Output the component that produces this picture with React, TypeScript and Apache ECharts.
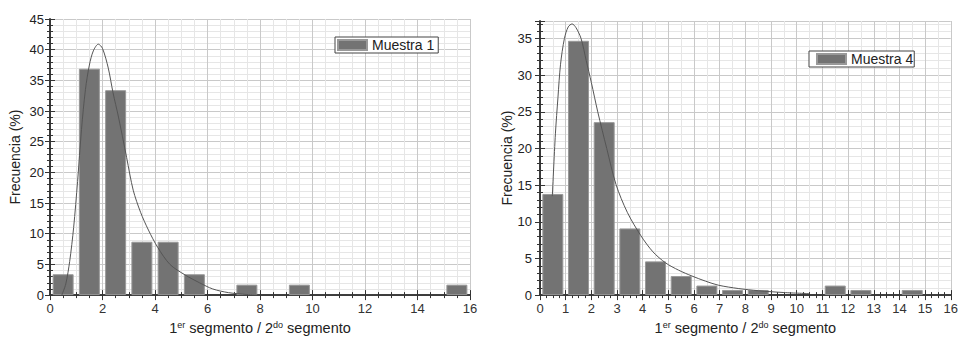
import React, { useEffect, useRef } from "react";
import * as echarts from "echarts";

// ---- data ----
const leftCenters = [0.5, 1.5, 2.5, 3.5, 4.5, 5.5, 7.5, 9.5, 15.5];
const leftFreq = [3.4, 36.9, 33.4, 8.7, 8.7, 3.4, 1.7, 1.7, 1.7];
const leftFitX = [0.45, 0.6, 0.75, 0.9, 1.05, 1.2, 1.35, 1.5, 1.65, 1.84, 2.0, 2.22, 2.4, 2.6, 2.92, 3.17, 3.45, 3.75, 4.1, 4.57, 5.14, 5.7, 6.2, 6.8, 7.5, 8.0];
const leftFitY = [0, 1.8, 5.5, 11, 18.5, 27, 33.5, 37.5, 39.8, 40.9, 40.2, 37, 33, 29.2, 22.4, 17.1, 13.5, 10.6, 7.8, 5, 3.3, 2, 1, 0.4, 0.1, 0];

const rightCenters = [0.5, 1.5, 2.5, 3.5, 4.5, 5.5, 6.5, 7.5, 8.5, 11.5, 12.5, 14.5];
const rightFreq = [13.8, 34.7, 23.6, 9.1, 4.6, 2.6, 1.3, 0.7, 0.7, 1.3, 0.7, 0.7];
const rightFitX = [0.48, 0.6, 0.7, 0.8, 0.95, 1.1, 1.25, 1.4, 1.6, 1.8, 2.0, 2.25, 2.6, 2.96, 3.4, 3.93, 4.4, 4.89, 5.4, 5.92, 6.45, 6.95, 7.72, 8.5, 9.5, 10.5];
const rightFitY = [13.5, 22, 27, 31.5, 35, 36.6, 37, 36.5, 35, 32, 29, 25, 20, 15.1, 11.3, 8.1, 5.9, 4.4, 3.4, 2.6, 1.9, 1.35, 0.9, 0.6, 0.35, 0.2];

const legendNames = ["Muestra 1", "Muestra 4"];
const yName = "Frecuencia (%)";
const xName = "1{sup|er} segmento / 2{sup|do} segmento";

const FONT = "'Liberation Sans', Arial, Helvetica, sans-serif";
const FRAME = "#333333";

function xAxes(grid: number, interval: number, minorTicks: number, minorGrid: number) {
  return [
    {
      type: "value", gridIndex: grid, position: "bottom", min: 0, max: 16, interval,
      axisLine: { show: true, lineStyle: { color: FRAME, width: 1.6 } },
      axisTick: { show: true, inside: true, length: 5, lineStyle: { color: FRAME } },
      minorTick: { show: true, splitNumber: minorTicks, length: 3, lineStyle: { color: FRAME } },
      axisLabel: { show: true, margin: 7, fontSize: 13, color: "#333", fontFamily: FONT },
      splitLine: { show: true, lineStyle: { color: "#c9c9c9", width: 1 } },
      name: xName, nameLocation: "middle", nameGap: 20,
      nameTextStyle: {
        fontSize: 14.5, color: "#222", fontFamily: FONT,
        rich: { sup: { fontSize: 9, verticalAlign: "top", lineHeight: 9, fontFamily: FONT, color: "#222" } },
      },
    },
    {
      type: "value", gridIndex: grid, position: "top", min: 0, max: 16, interval,
      axisLine: { show: true, lineStyle: { color: FRAME, width: 1.6 } },
      axisTick: { show: true, inside: true, length: 5, lineStyle: { color: FRAME } },
      minorTick: { show: true, splitNumber: minorTicks, length: 3, lineStyle: { color: FRAME } },
      axisLabel: { show: false },
      splitLine: { show: false },
    },
    {
      type: "value", gridIndex: grid, position: "bottom", min: 0, max: 16, interval,
      axisLine: { show: false }, axisTick: { show: false }, axisLabel: { show: false },
      splitLine: { show: false },
      minorTick: { show: false, splitNumber: minorGrid },
      minorSplitLine: { show: true, lineStyle: { color: "#e6e6e6", width: 1 } },
    },
  ];
}

function yAxes(grid: number, max: number, nameGap: number, labelMargin: number) {
  return [
    {
      type: "value", gridIndex: grid, position: "left", min: 0, max, interval: 5,
      axisLine: { show: true, lineStyle: { color: FRAME, width: 1.6 } },
      axisTick: { show: true, inside: true, length: 5, lineStyle: { color: FRAME } },
      minorTick: { show: true, splitNumber: 5, length: 3, lineStyle: { color: FRAME } },
      axisLabel: { show: true, margin: labelMargin, fontSize: 13, color: "#222", fontFamily: FONT, showMaxLabel: max % 5 === 0 },
      splitLine: { show: true, lineStyle: { color: "#c9c9c9", width: 1 } },
      name: yName, nameLocation: "middle", nameGap, nameRotate: 90,
      nameTextStyle: { fontSize: 14, color: "#222", fontFamily: FONT },
    },
    {
      type: "value", gridIndex: grid, position: "right", min: 0, max, interval: 5,
      axisLine: { show: true, lineStyle: { color: FRAME, width: 1.6 } },
      axisTick: { show: true, inside: true, length: 5, lineStyle: { color: FRAME } },
      minorTick: { show: true, splitNumber: 5, length: 3, lineStyle: { color: FRAME } },
      axisLabel: { show: false },
      splitLine: { show: false },
    },
    {
      type: "value", gridIndex: grid, position: "left", min: 0, max, interval: 5,
      axisLine: { show: false }, axisTick: { show: false }, axisLabel: { show: false },
      splitLine: { show: false },
      minorTick: { show: false, splitNumber: 5 },
      minorSplitLine: { show: true, lineStyle: { color: "#e6e6e6", width: 1 } },
    },
  ];
}

const barStyle = { color: "#737373", borderColor: "#999999", borderWidth: 1 };

function buildOption() {
  return {
    animation: false,
    backgroundColor: "#ffffff",
    textStyle: { fontFamily: FONT },
    grid: [
      { left: 50, top: 19, width: 420, height: 287 },
      { left: 540, top: 21, width: 414, height: 284.5 },
    ],
    xAxis: [...xAxes(0, 2, 4, 4), ...xAxes(1, 1, 4, 2)],
    yAxis: [...yAxes(0, 45, 28, 6), ...yAxes(1, 37.4, 26, 8)],
    legend: [
      {
        left: 335, top: 37, data: [legendNames[0]], icon: "rect", itemWidth: 29, itemHeight: 10,
        padding: [1, 4, 1, 2], borderColor: "#444", borderWidth: 1, backgroundColor: "#fff",
        textStyle: { fontSize: 14, color: "#222", fontFamily: FONT },
      },
      {
        left: 809, top: 51, data: [legendNames[1]], icon: "rect", itemWidth: 29, itemHeight: 10,
        padding: [1, 1, 1, 7], borderColor: "#444", borderWidth: 1, backgroundColor: "#fff",
        textStyle: { fontSize: 14, color: "#222", fontFamily: FONT },
      },
    ],
    series: [
      {
        name: legendNames[0], type: "bar", xAxisIndex: 0, yAxisIndex: 0, barWidth: 21,
        itemStyle: barStyle, z: 2,
        data: leftCenters.map((c, i) => [c, leftFreq[i]]),
      },
      {
        name: "ajuste1", type: "line", xAxisIndex: 0, yAxisIndex: 0, symbol: "none", smooth: 0.3,
        lineStyle: { color: "#555", width: 1 }, z: 5,
        data: leftFitX.map((x, i) => [x, leftFitY[i]]),
      },
      {
        name: legendNames[1], type: "bar", xAxisIndex: 3, yAxisIndex: 3, barWidth: 21,
        itemStyle: barStyle, z: 2,
        data: rightCenters.map((c, i) => [c, rightFreq[i]]),
      },
      {
        name: "ajuste4", type: "line", xAxisIndex: 3, yAxisIndex: 3, symbol: "none", smooth: 0.3,
        lineStyle: { color: "#555", width: 1 }, z: 5,
        data: rightFitX.map((x, i) => [x, rightFitY[i]]),
      },
    ],
  };
}

export default function App() {
  const ref = useRef<HTMLDivElement>(null);
  useEffect(() => {
    if (!ref.current) return;
    const chart = echarts.init(ref.current, null, { renderer: "svg" });
    chart.setOption(buildOption() as any);
    return () => chart.dispose();
  }, []);
  return (
    <div
      ref={ref}
      style={{ position: "absolute", left: 0, top: 0, width: 961, height: 340, background: "#fff" }}
    />
  );
}
